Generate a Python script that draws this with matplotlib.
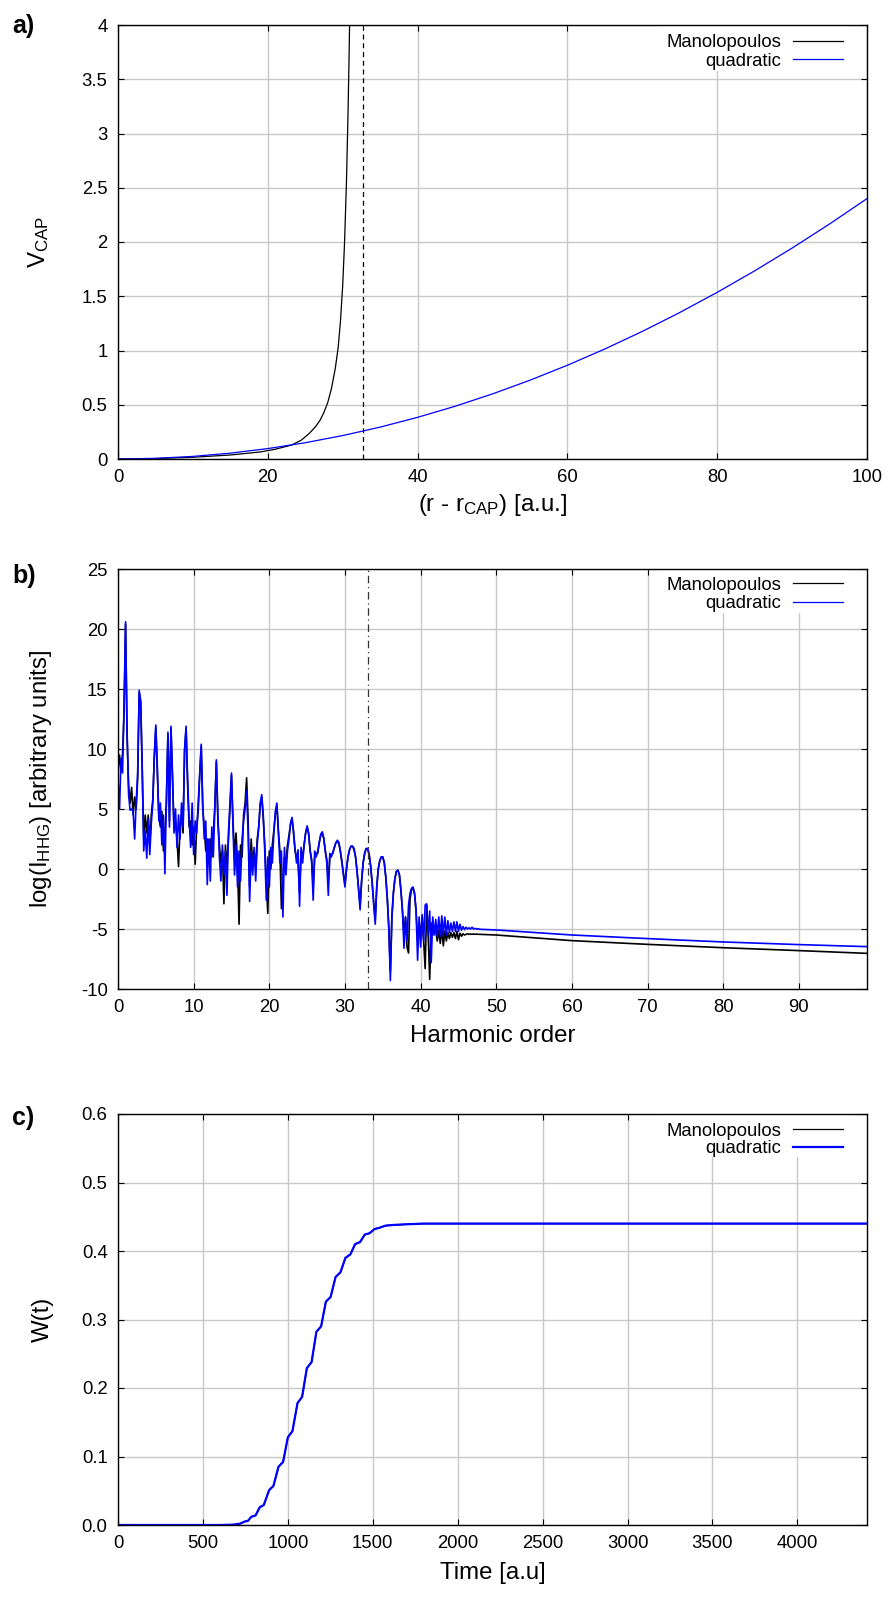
import numpy as np
import matplotlib
matplotlib.use("Agg")
import matplotlib.pyplot as plt
from matplotlib.lines import Line2D
from matplotlib.patches import Rectangle
from matplotlib.ticker import FixedLocator, FuncFormatter

plt.rcParams['font.family'] = ['Liberation Sans', 'DejaVu Sans']
plt.rcParams['mathtext.fontset'] = 'custom'
plt.rcParams['mathtext.rm'] = 'Liberation Sans'
plt.rcParams['mathtext.it'] = 'Liberation Sans:italic'
plt.rcParams['mathtext.bf'] = 'Liberation Sans:bold'
plt.rcParams['axes.unicode_minus'] = False

# ---------------- panel a: CAP potentials ----------------
r_quadratic = [0, 5, 10, 15, 20, 25, 30, 35, 40, 45, 50, 55, 60, 65, 70, 75, 80, 85, 90, 95, 100]
v_quadratic = [0.0, 0.006, 0.024, 0.054, 0.096, 0.150, 0.216, 0.294, 0.384, 0.486, 0.600,
               0.726, 0.864, 1.014, 1.176, 1.350, 1.536, 1.734, 1.944, 2.166, 2.400]
r_manolo = [0, 5, 10, 15, 19, 21, 23.2, 24.5, 25.6, 26.4, 27.0, 27.5, 28.0, 28.5, 29.0,
            29.4, 29.7, 30.0, 30.25, 30.5, 30.7, 30.85, 31.0]
v_manolo = [0.0, 0.004, 0.016, 0.037, 0.065, 0.09, 0.129, 0.175, 0.24, 0.30, 0.36, 0.43, 0.52,
            0.65, 0.83, 1.03, 1.27, 1.6, 2.0, 2.55, 3.15, 3.7, 4.35]
cap_end_a = 32.7

# ---------------- panel b: HHG spectra ----------------
harmonic_grid = np.round(np.arange(0, 48.01, 0.2), 1)
hhg_quadratic = [
    7.5, 5.0, 9.2, 8.0, 13.5, 20.6, 11.5, 6.2, 4.9, 5.0,
    4.8, 2.5, 5.5, 8.0, 14.9, 14.0, 8.5, 1.5, 3.2, 0.9,
    4.2, 1.2, 3.8, 5.5, 9.5, 12.0, 8.5, 4.0, 5.5, 2.0,
    4.5, -0.4, 6.0, 11.4, 3.5, 11.9, 8.0, 3.0, 5.0, 1.8,
    4.5, 2.5, 5.5, 3.5, 10.0, 11.9, 7.5, 4.2, 1.8, 5.5,
    1.2, 4.0, 3.0, 5.5, 8.0, 10.4, 5.5, 2.5, 4.0, -1.3,
    2.5, -1.0, 3.5, 1.0, 5.0, 9.1, 4.5, 1.0, -1.0, 2.0,
    -0.5, 1.5, -2.2, 3.0, 5.5, 8.0, 3.5, -0.5, 2.0, -1.5,
    1.5, -1.0, 2.5, 4.0, 5.0, 6.5, 3.0, -2.7, 1.5, -0.5,
    1.8, -1.0, 2.0, 3.5, 5.5, 6.2, 4.5, 1.5, -2.6, 1.0,
    -1.5, 1.8, 0.5, 3.0, 4.8, 5.5, 3.0, 0.5, 1.5, -4.0,
    1.8, -0.5, 1.5, 2.5, 3.8, 4.3, 3.2, 1.7, 0.5, 1.6,
    -3.1, 1.8, 0.5, 2.0, 3.0, 3.6, 3.0, 1.5, 0.5, -2.6,
    1.5, 1.0, 1.5, 2.2, 2.9, 3.1, 2.6, 1.5, 0.5, -2.2,
    1.3, 1.0, 1.4, 1.8, 2.2, 2.4, 2.2, 1.5, 0.6, -0.5,
    -1.5, 0.0, 1.0, 1.6, 1.9, 1.9, 1.7, 1.0, -0.2, -1.8,
    -3.4, -1.0, 0.5, 1.3, 1.7, 1.7, 1.2, 0.2, -1.2, -3.0,
    -4.6, -1.5, 0.0, 0.7, 1.0, 1.0, 0.5, -0.7, -2.5, -5.0,
    -9.3, -4.0, -2.0, -0.8, -0.2, -0.1, -0.5, -1.8, -3.5, -6.6,
    -4.0, -6.0, -3.0, -2.0, -1.6, -1.5, -2.0, -3.5, -7.6, -4.0,
    -6.5, -3.8, -6.0, -3.0, -2.9, -5.5, -3.5, -7.8, -4.0, -5.5,
    -4.2, -5.6, -4.0, -5.6, -3.9, -5.5, -4.0, -5.5, -4.3, -5.3,
    -4.5, -5.2, -4.4, -5.2, -4.4, -5.2, -4.6, -5.1, -4.8, -5.05,
    -4.85, -5.0, -4.9, -5.0, -4.85, -5.0, -4.95, -5.0, -4.98, -5.02,
    -5.03]
hhg_manolo = [
    8.0, 9.5, 8.3, 9.6, 13.0, 20.4, 11.0, 7.0, 5.5, 6.8,
    4.5, 6.0, 5.0, 7.5, 14.7, 13.9, 8.0, 2.5, 4.5, 3.0,
    4.5, 2.0, 4.5, 5.8, 9.3, 11.8, 8.0, 4.5, 3.5, 4.8,
    1.5, 3.0, 5.5, 11.2, 4.0, 11.7, 7.5, 3.5, 4.0, 2.5,
    0.2, 3.5, 4.5, 3.0, 9.8, 11.7, 7.0, 3.5, 4.0, 2.0,
    3.5, 0.4, 3.5, 4.8, 7.8, 10.2, 5.0, 3.5, 1.5, 2.5,
    0.5, 2.5, 1.0, 3.0, 5.2, 8.9, 4.0, 2.0, 0.5, 1.5,
    -2.9, 2.0, 0.0, 2.5, 5.0, 7.8, 4.0, 1.0, 3.0, 0.5,
    -4.6, 2.0, 1.0, 4.5, 5.5, 7.6, 4.0, -1.5, 2.5, 0.5,
    1.5, 0.0, 2.5, 3.5, 5.3, 6.0, 4.2, 2.0, -1.0, -3.7,
    1.5, 0.0, 2.0, 3.2, 4.6, 5.3, 3.2, 1.5, -3.3, -1.0,
    1.0, 0.5, 2.0, 2.8, 3.7, 4.2, 3.0, 1.5, 1.0, 0.5,
    -2.0, 1.5, 1.0, 2.0, 3.0, 3.5, 2.9, 1.5, 0.8, -1.5,
    1.0, 1.3, 1.3, 2.2, 2.8, 3.0, 2.5, 1.5, 0.8, -1.0,
    1.0, 1.2, 1.3, 1.8, 2.2, 2.3, 2.1, 1.4, 0.5, -0.4,
    -1.3, 0.0, 1.0, 1.6, 1.9, 1.9, 1.6, 1.0, -0.2, -1.6,
    -3.0, -1.0, 0.5, 1.3, 1.7, 1.7, 1.2, 0.2, -1.2, -2.8,
    -4.2, -1.5, 0.0, 0.7, 1.0, 1.0, 0.5, -0.7, -2.5, -5.0,
    -8.5, -4.0, -2.0, -0.8, -0.2, -0.1, -0.5, -1.8, -3.5, -5.5,
    -4.0, -6.5, -7.0, -2.5, -1.7, -1.6, -2.1, -3.5, -6.0, -4.5,
    -5.5, -4.0, -6.0, -8.3, -3.0, -5.5, -9.2, -4.5, -5.5, -5.0,
    -5.2, -6.0, -5.1, -6.2, -5.0, -6.4, -5.2, -6.0, -5.3, -5.8,
    -5.3, -5.7, -5.3, -5.8, -5.2, -5.9, -5.35, -5.6, -5.4, -5.5,
    -5.45, -5.4, -5.45, -5.42, -5.44, -5.42, -5.44, -5.43, -5.44, -5.44,
    -5.45]
tail_order = [50, 60, 70, 80, 90, 99]
tail_quadratic = [-5.08, -5.5, -5.8, -6.08, -6.3, -6.47]
tail_manolo = [-5.5, -5.97, -6.28, -6.56, -6.8, -7.03]
cutoff_b = 33.0

# ---------------- panel c: absorbed norm W(t) ----------------
time_au = [0, 600, 680, 720, 745, 765, 785, 810, 835, 858, 890, 915, 945, 972, 1000, 1027,
           1057, 1084, 1112, 1140, 1168, 1196, 1224, 1252, 1281, 1310, 1339, 1368, 1396,
           1425, 1453, 1482, 1510, 1540, 1575, 1620, 1700, 1800, 4410]
w_manolo = [0.0, 0.0, 0.0005, 0.002, 0.005, 0.006, 0.012, 0.014, 0.026, 0.029, 0.051, 0.057,
            0.085, 0.092, 0.128, 0.137, 0.178, 0.187, 0.229, 0.238, 0.282, 0.290, 0.326,
            0.333, 0.362, 0.369, 0.390, 0.395, 0.410, 0.413, 0.424, 0.426, 0.432, 0.434,
            0.437, 0.438, 0.439, 0.440, 0.440]
w_quadratic = list(w_manolo)

assert len(hhg_quadratic) == len(harmonic_grid) == len(hhg_manolo)

# ---------------- figure ----------------
fig = plt.figure(figsize=(8.88, 16.12), dpi=100)
L, Wd = 118 / 888, 749 / 888
ax_a = fig.add_axes([L, 1 - 459 / 1612, Wd, 434 / 1612])
ax_b = fig.add_axes([L, 1 - 989 / 1612, Wd, 420 / 1612])
ax_c = fig.add_axes([L, 1 - 1525 / 1612, Wd, 411 / 1612])

TICK = 13.3
LAB = 17.3
GRID = '#c8c8c8'
BLUE = '#0000ff'


def style(ax):
    ax.grid(True, color=GRID, lw=1.0)
    ax.set_axisbelow(True)
    ax.tick_params(direction='in', length=4.3, width=0.8, labelsize=TICK, pad=7.5,
                   top=True, right=True)
    for s in ax.spines.values():
        s.set_linewidth(1.0)
        s.set_zorder(5)


def key(ax, y1, y2, lwk, lwb):
    ax.add_patch(Rectangle((0.725, 0.895), 0.25, 0.105, transform=ax.transAxes,
                           facecolor='white', edgecolor='none', zorder=1.5))
    h = ax.bbox.height
    off = 6.6 / h
    for y, lab, col, lw in ((y1, 'Manolopoulos', 'black', lwk), (y2, 'quadratic', BLUE, lwb)):
        ax.text(0.886, y - off, lab, transform=ax.transAxes, ha='right', va='baseline',
                fontsize=TICK, zorder=6)
        ax.add_line(Line2D([0.9016, 0.9684], [y, y], transform=ax.transAxes, color=col,
                           lw=lw, zorder=6))


# panel a
style(ax_a)
ax_a.plot(r_manolo, v_manolo, color='black', lw=0.9, zorder=3)
ax_a.plot(r_quadratic, v_quadratic, color=BLUE, lw=0.9, zorder=3)
ax_a.axvline(cap_end_a, color='black', lw=0.9, ls=(0, (4, 3)), zorder=3)
ax_a.set_xlim(0, 100)
ax_a.set_ylim(0, 4)
ax_a.xaxis.set_major_locator(FixedLocator([0, 20, 40, 60, 80, 100]))
ax_a.yaxis.set_major_locator(FixedLocator(np.arange(0, 4.01, 0.5)))
ax_a.yaxis.set_major_formatter(FuncFormatter(lambda v, _: f'{v:g}'))
ax_a.set_xlabel(r'(r - r$_\mathrm{CAP}$) [a.u.]', fontsize=LAB, labelpad=4)
ax_a.set_ylabel(r'V$_\mathrm{CAP}$', fontsize=LAB)
ax_a.yaxis.set_label_coords(-0.09, 0.5)
key(ax_a, 0.9638, 0.921, 0.9, 0.9)

# panel b
style(ax_b)
ax_b.plot(list(harmonic_grid) + tail_order, hhg_manolo + tail_manolo, color='black', lw=1.2,
          zorder=3)
ax_b.plot(list(harmonic_grid) + tail_order, hhg_quadratic + tail_quadratic, color=BLUE,
          lw=1.2, zorder=3)
ax_b.axvline(cutoff_b, color='#333333', lw=0.9, ls=(0, (6, 3, 1, 3)), zorder=3)
ax_b.set_xlim(0, 99)
ax_b.set_ylim(-10, 25)
ax_b.xaxis.set_major_locator(FixedLocator(np.arange(0, 91, 10)))
ax_b.yaxis.set_major_locator(FixedLocator(np.arange(-10, 26, 5)))
ax_b.set_xlabel('Harmonic order', fontsize=LAB, labelpad=6)
ax_b.set_ylabel(r'log(I$_\mathrm{HHG}$) [arbitrary units]', fontsize=LAB)
ax_b.yaxis.set_label_coords(-0.085, 0.5)
key(ax_b, 0.966, 0.922, 0.9, 0.9)

# panel c
style(ax_c)
ax_c.plot(time_au, w_manolo, color='black', lw=1.0, zorder=3)
ax_c.plot(time_au, w_quadratic, color=BLUE, lw=1.6, zorder=3)
ax_c.set_xlim(0, 4410)
ax_c.set_ylim(0, 0.6)
ax_c.xaxis.set_major_locator(FixedLocator(np.arange(0, 4001, 500)))
ax_c.yaxis.set_major_locator(FixedLocator(np.arange(0, 0.61, 0.1)))
ax_c.yaxis.set_major_formatter(FuncFormatter(lambda v, _: f'{v:.1f}'))
ax_c.set_xlabel('Time [a.u]', fontsize=LAB, labelpad=7)
ax_c.set_ylabel('W(t)', fontsize=LAB)
ax_c.yaxis.set_label_coords(-0.085, 0.5)
key(ax_c, 0.9635, 0.9205, 0.9, 1.6)

for lab, ytop in (('a)', 14), ('b)', 564), ('c)', 1106)):
    fig.text(12 / 888, 1 - ytop / 1612, lab, fontsize=18, fontweight='bold', va='top',
             ha='left')

fig.savefig('out.png', dpi=100, facecolor='white')
